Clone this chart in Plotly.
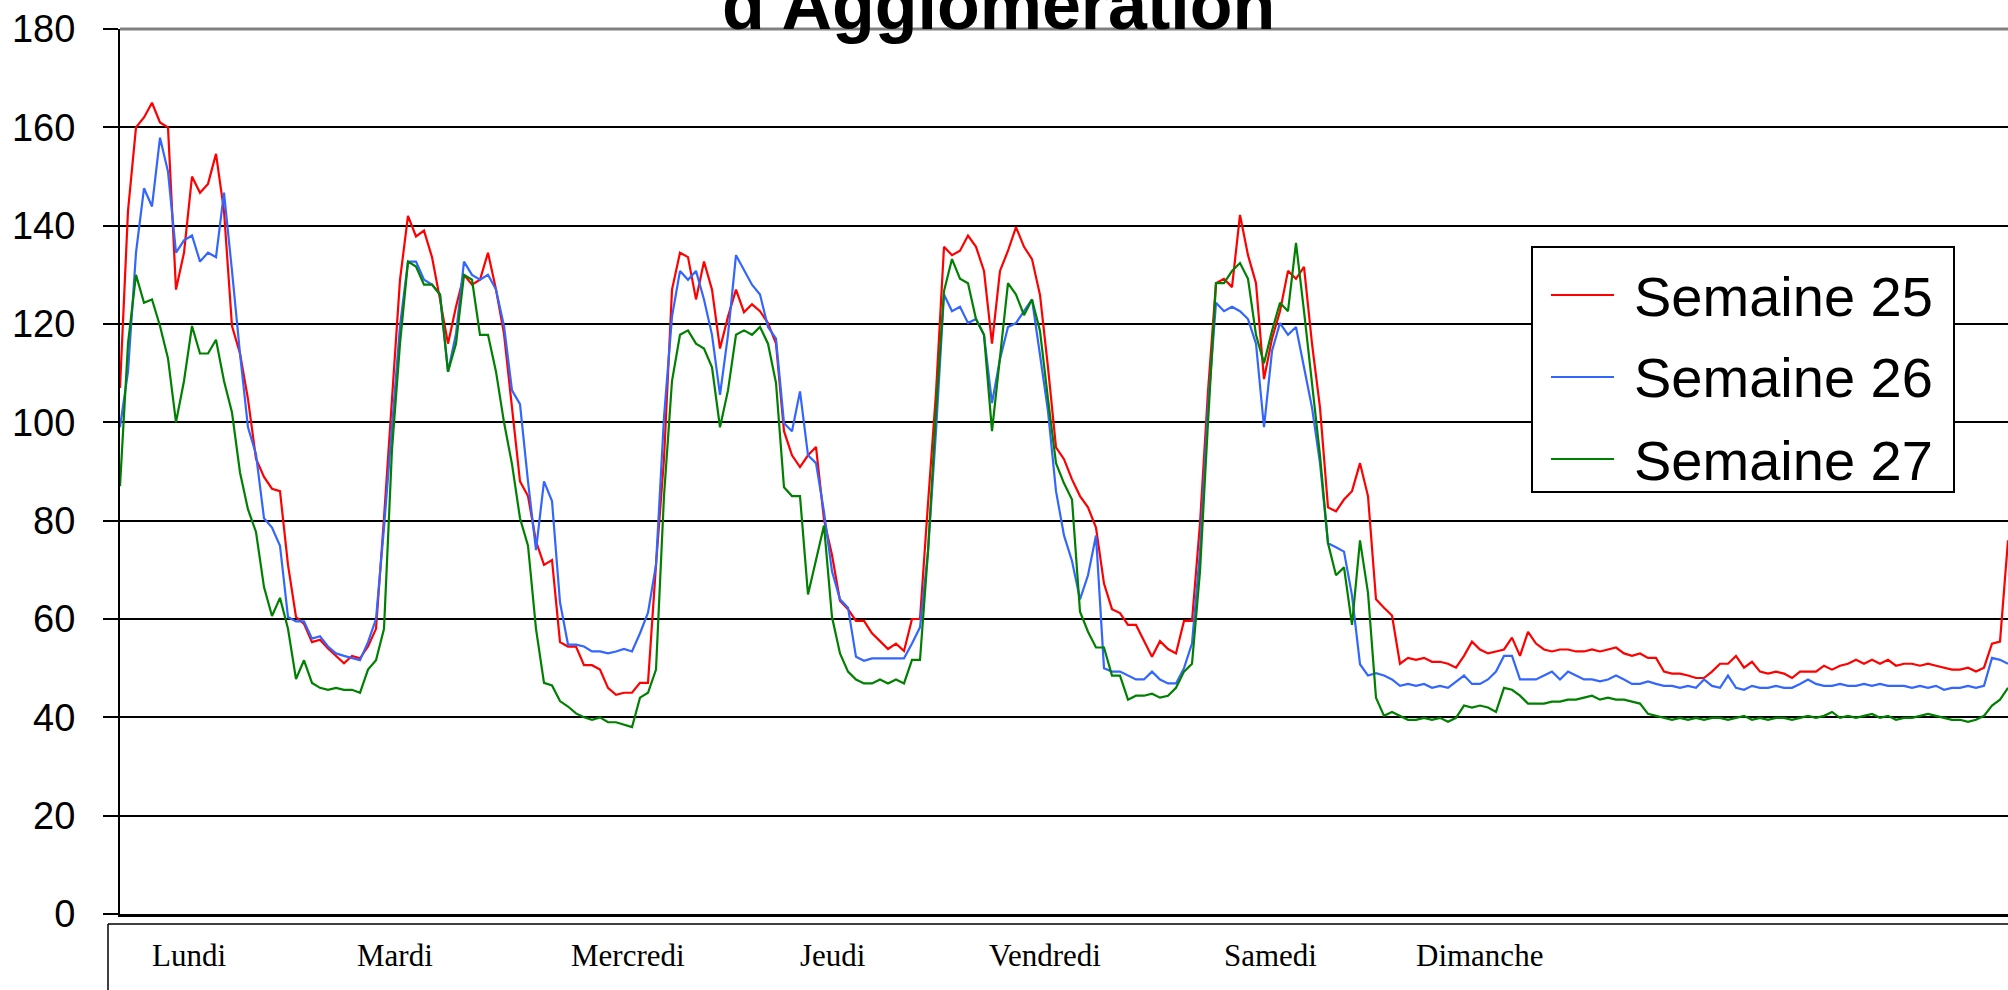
import plotly.graph_objects as go

# ---------------- data ----------------
series_names = ["Semaine 25", "Semaine 26", "Semaine 27"]
days = ["Lundi", "Mardi", "Mercredi", "Jeudi", "Vendredi", "Samedi", "Dimanche"]
day_ticks = [8.6, 34.4, 63.5, 89.1, 115.6, 143.75, 169.9]
y_ticks = [0, 20, 40, 60, 80, 100, 120, 140, 160, 180]

semaine_25 = [
    107, 143, 160, 162, 165, 161, 160, 127, 134.5, 150,
    146.7, 148.5, 154.6, 143, 119.6, 114, 104.7, 92.6, 88.9, 86.5,
    86, 71, 60.4, 59, 55.3, 55.8, 54, 52.5, 51, 52.5,
    52, 54.4, 58, 80.5, 105.6, 129, 142, 137.8, 139, 133.6,
    125, 116, 123.5, 130, 128, 129, 134.5, 127, 118, 102.8,
    88, 85, 75.8, 71, 72, 55.3, 54.4, 54.4, 50.6, 50.6,
    49.7, 46, 44.6, 45, 45, 47, 47, 71, 92.6, 127,
    134.5, 133.6, 125, 132.7, 127, 115, 121.5, 127, 122.4, 124,
    122.6, 120.2, 116, 98.2, 93.3, 90.9, 93.3, 95, 80.2, 73,
    63.7, 62, 59.6, 59.6, 57.1, 55.5, 53.9, 55, 53.5, 60,
    60, 83.5, 106, 135.7, 134, 134.9, 138, 135.7, 130.8, 116,
    130.8, 134.9, 139.7, 135.7, 133.2, 125.9, 111.2, 94.9, 92.5, 88.4,
    85, 82.7, 78.6, 67.2, 62, 61.2, 58.8, 58.8, 55.5, 52.3,
    55.5, 53.9, 53, 59.6, 59.6, 79.4, 106.3, 128.3, 129.2, 127.5,
    142.2, 134, 128.3, 108.8, 117, 122.6, 130.8, 129.2, 131.6, 116,
    103, 82.7, 81.9, 84.3, 86, 91.7, 85, 64, 62.3, 60.7,
    50.9, 52.1, 51.7, 52.1, 51.3, 51.3, 50.9, 50.1, 52.5, 55.4,
    53.8, 53, 53.4, 53.8, 56.2, 52.5, 57.4, 55, 53.8, 53.4,
    53.8, 53.8, 53.4, 53.4, 53.8, 53.4, 53.8, 54.2, 53, 52.5,
    53, 52.1, 52.1, 49.3, 48.9, 48.9, 48.5, 48, 48, 49.3,
    50.9, 50.9, 52.5, 50.1, 51.3, 49.3, 48.9, 49.3, 48.9, 48,
    49.3, 49.3, 49.3, 50.5, 49.7, 50.5, 50.9, 51.7, 50.9, 51.7,
    50.9, 51.7, 50.5, 50.9, 50.9, 50.5, 50.9, 50.5, 50.1, 49.7,
    49.7, 50.1, 49.3, 50.1, 55, 55.4, 76,
]

semaine_26 = [
    99, 110.3, 134.5, 147.6, 143.9, 157.9, 151, 134.5, 137, 138,
    132.7, 134.5, 133.6, 146.7, 130.8, 114, 99, 93.5, 80.5, 78.6,
    74.9, 60.4, 59.5, 59.5, 56, 56.5, 54.4, 53, 52.5, 52,
    51.6, 55.3, 60, 78.6, 99, 119.6, 132.7, 132.7, 129, 128,
    126, 110.3, 118, 132.7, 130, 129, 130, 127, 119.6, 106.5,
    103.7, 88, 74, 88, 84, 63.4, 54.8, 54.8, 54.4, 53.4,
    53.4, 53, 53.4, 53.9, 53.4, 57.1, 61.3, 71, 101, 121.5,
    130.8, 129, 130.8, 125, 117.8, 105.6, 117.8, 134, 131, 128,
    126, 119.4, 117, 99.8, 98.2, 106.3, 93.3, 91.7, 81.8, 69.7,
    64, 62.3, 52.3, 51.5, 52, 52, 52, 52, 52, 55,
    58.3, 73.7, 98.2, 126, 122.6, 123.5, 120.2, 121, 117.8, 103.9,
    112.9, 119.4, 120.2, 122.6, 125, 113.7, 102.3, 86, 77, 71.8,
    64, 68.9, 77, 50, 49.3, 49.3, 48.5, 47.7, 47.7, 49.3,
    47.7, 46.9, 46.9, 50, 55, 73.7, 103, 124.3, 122.6, 123.5,
    122.6, 121, 116, 99, 114.5, 120.2, 117.8, 119.4, 111.2, 103,
    91.7, 75.4, 74.6, 73.7, 64.8, 50.8, 48.5, 49, 48.5, 47.7,
    46.4, 46.8, 46.4, 46.8, 46, 46.4, 46, 47.3, 48.5, 46.8,
    46.8, 47.7, 49.3, 52.5, 52.5, 47.7, 47.7, 47.7, 48.5, 49.3,
    47.7, 49.3, 48.5, 47.7, 47.7, 47.3, 47.7, 48.5, 47.7, 46.8,
    46.8, 47.3, 46.8, 46.4, 46.4, 46, 46.4, 46, 47.7, 46.4,
    46, 48.5, 46, 45.6, 46.4, 46, 46, 46.4, 46, 46,
    46.8, 47.7, 46.8, 46.4, 46.4, 46.8, 46.4, 46.4, 46.8, 46.4,
    46.8, 46.4, 46.4, 46.4, 46, 46.4, 46, 46.4, 45.6, 46,
    46, 46.4, 46, 46.4, 52.1, 51.7, 50.9,
]

semaine_27 = [
    87, 116, 130, 124.3, 125, 119.6, 113, 100, 108.4, 119.6,
    114, 114, 116.8, 108.4, 102, 89.8, 82.3, 77.7, 66.5, 60.6,
    64.3, 58, 47.8, 51.6, 47, 46, 45.6, 46, 45.6, 45.6,
    45, 49.7, 51.6, 58, 94.5, 116, 132.7, 131.7, 128, 128,
    126, 110.3, 116, 130, 129, 117.8, 117.8, 110.3, 100, 91.5,
    80.5, 74.9, 58, 47, 46.5, 43.3, 42.2, 40.8, 40, 39.5,
    40, 39, 39, 38.5, 38, 44, 45, 49.7, 85, 108.4,
    117.8, 118.7, 116, 115, 111.2, 99, 106.5, 117.8, 118.7, 117.8,
    119.4, 116, 108, 86.8, 85, 85, 65, 72, 79, 60.4,
    53, 49.3, 47.7, 46.9, 46.9, 47.7, 46.9, 47.7, 46.9, 51.7,
    51.7, 73.7, 102.3, 126.7, 133.2, 129.2, 128.3, 121, 117.8, 98.2,
    112.9, 128.3, 126, 121.8, 125, 118.6, 104.7, 91.7, 87.6, 84.3,
    61.5, 57.4, 54.2, 54.2, 48.5, 48.5, 43.6, 44.4, 44.4, 44.8,
    44, 44.4, 46, 49.3, 50.9, 69.7, 100, 128.3, 128.3, 130.8,
    132.4, 129.2, 117.8, 112, 118.6, 124.3, 122.6, 136.5, 122.6, 108,
    93.3, 75.4, 68.9, 70.5, 58.8, 76, 65.3, 44, 40.3, 41.1,
    40.3, 39.5, 39.5, 39.9, 39.5, 39.9, 39.1, 39.9, 42.4, 42,
    42.4, 42, 41.1, 46, 45.6, 44.4, 42.8, 42.8, 42.8, 43.2,
    43.2, 43.6, 43.6, 44, 44.4, 43.6, 44, 43.6, 43.6, 43.2,
    42.8, 40.7, 40.3, 39.9, 39.5, 39.9, 39.5, 39.9, 39.5, 39.9,
    39.9, 39.5, 39.9, 40.3, 39.5, 39.9, 39.5, 39.9, 39.9, 39.5,
    39.9, 40.3, 39.9, 40.3, 41.1, 39.9, 40.3, 39.9, 40.3, 40.7,
    39.9, 40.3, 39.5, 39.9, 39.9, 40.3, 40.7, 40.3, 39.9, 39.5,
    39.5, 39.1, 39.5, 40.3, 42.4, 43.6, 46,
]

colors = ["#FF0000", "#3366FF", "#008000"]
values = [semaine_25, semaine_26, semaine_27]

# ---------------- layout geometry (pixels) ----------------
W, H = 2008, 990
ML, MR, MT, MB = 120, 0, 29, 76
PW, PH = W - ML - MR, H - MT - MB


def px(xp):
    return (xp - ML) / PW


def py(yp):
    return (H - MB - yp) / PH


fig = go.Figure()
for name, vals, col in zip(series_names, values, colors):
    fig.add_trace(go.Scatter(
        x=list(range(len(vals))), y=vals, mode="lines", name=name,
        line=dict(color=col, width=2.2), showlegend=False,
    ))

n = len(semaine_25)
shapes = []
# top frame line (gray)
shapes.append(dict(type="line", xref="paper", yref="paper", x0=0, x1=1, y0=1, y1=1,
                   line=dict(color="#808080", width=3)))
# category table box below the axis
shapes.append(dict(type="line", xref="paper", yref="paper", x0=px(108), x1=1.05,
                   y0=py(924), y1=py(924), line=dict(color="black", width=1.5)))
shapes.append(dict(type="line", xref="paper", yref="paper", x0=px(108), x1=px(108),
                   y0=py(924), y1=py(1000), line=dict(color="black", width=1.5)))
# legend box
shapes.append(dict(type="rect", xref="paper", yref="paper", x0=px(1532), x1=px(1954),
                   y0=py(492), y1=py(247), line=dict(color="black", width=2),
                   fillcolor="white", layer="above"))
annotations = []
leg_y = [295, 377, 459]
for name, col, yy in zip(series_names, colors, leg_y):
    shapes.append(dict(type="line", xref="paper", yref="paper", x0=px(1551), x1=px(1614),
                       y0=py(yy), y1=py(yy), line=dict(color=col, width=2), layer="above"))
    annotations.append(dict(text=name, xref="paper", yref="paper", x=px(1632), y=py(yy + 1),
                            xanchor="left", yanchor="middle", showarrow=False,
                            font=dict(family="Liberation Sans, Arial", size=56, color="black")))

# title (only its lower part visible, like the reference)
annotations.append(dict(text="<b>d'Agglomération</b>", xref="paper", yref="paper",
                        x=px(998), y=py(5), xanchor="center", yanchor="middle",
                        showarrow=False,
                        font=dict(family="Liberation Sans, Arial", size=70, color="black")))

# day labels
for d, t in zip(days, day_ticks):
    annotations.append(dict(text=d, xref="x", yref="paper", x=t, y=py(955),
                            xanchor="center", yanchor="middle", showarrow=False,
                            font=dict(family="Liberation Serif, Times New Roman", size=31,
                                      color="black")))

fig.update_layout(
    width=W, height=H,
    margin=dict(l=ML, r=MR, t=MT, b=MB, pad=0),
    paper_bgcolor="white", plot_bgcolor="white",
    shapes=shapes, annotations=annotations,
    xaxis=dict(range=[0, n - 1], showgrid=False, zeroline=False,
               showline=True, linecolor="black", linewidth=2.5,
               showticklabels=False, ticks=""),
    yaxis=dict(range=[0, 180], tickvals=y_ticks, showgrid=True, gridcolor="black",
               gridwidth=2, zeroline=False, showline=True, linecolor="black",
               linewidth=2, ticks="outside", ticklen=15, tickwidth=2, tickcolor="black",
               ticklabelstandoff=20,
               tickfont=dict(family="Liberation Sans, Arial", size=38, color="black")),
)

# remove the page's default 8px body margin so the figure sits at the window corner
fig.write_html("out.html", config={"displayModeBar": False},
               post_script="document.body.style.margin='0px';")
